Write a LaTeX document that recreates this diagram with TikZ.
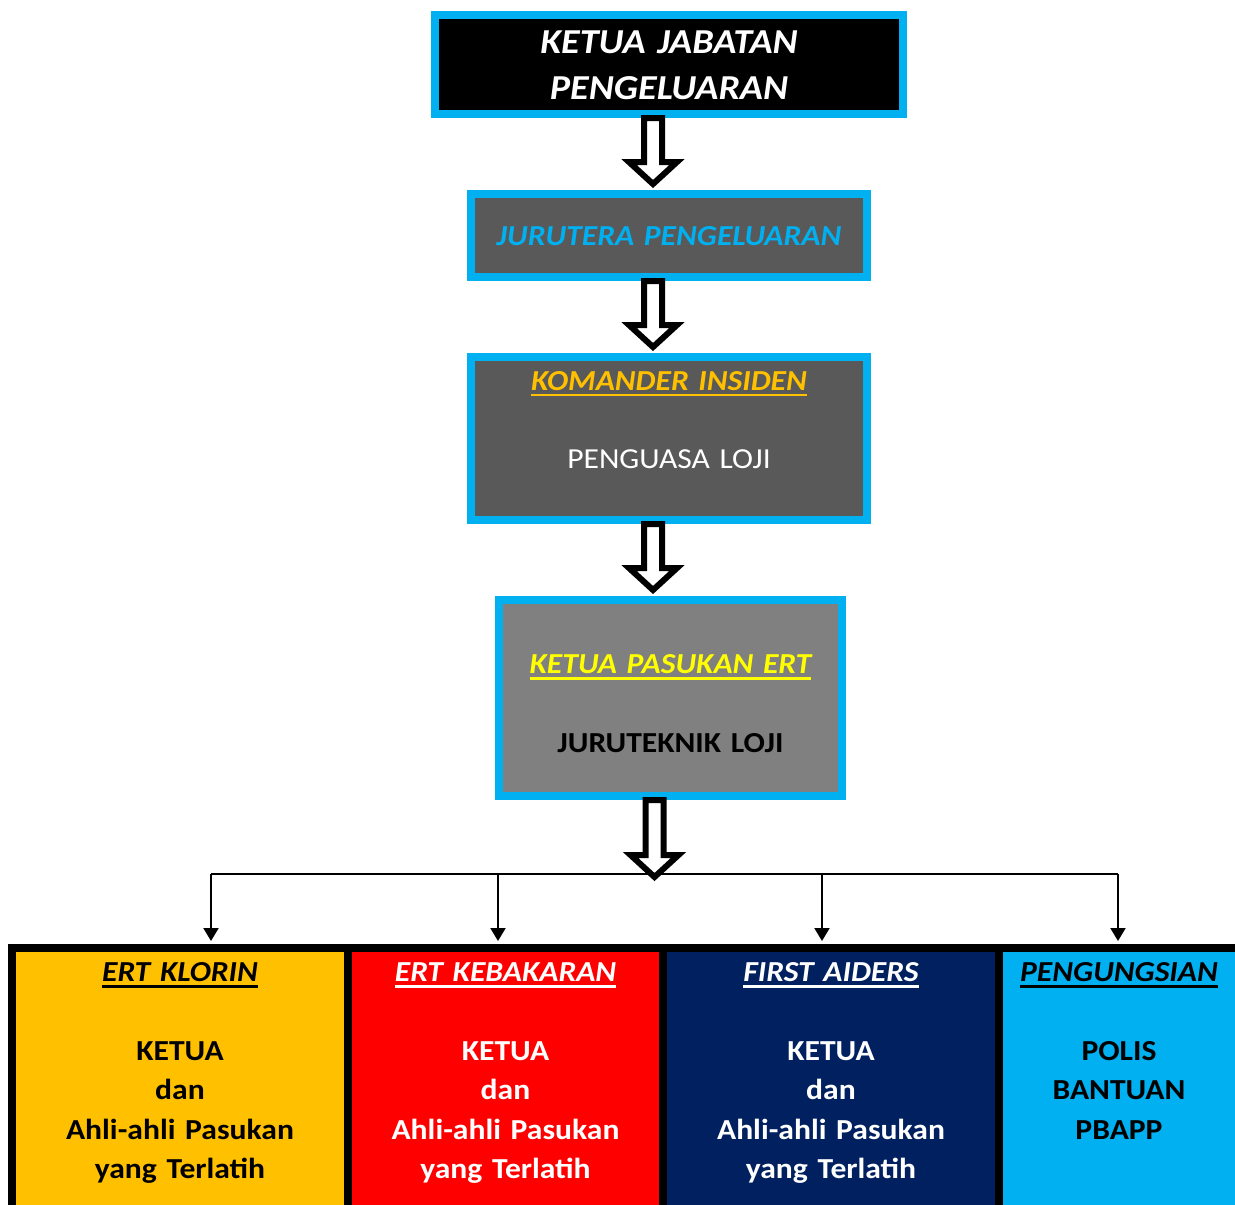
\documentclass[tikz,border=0pt]{standalone}
\usepackage{fontspec}
\setmainfont{Carlito}[FakeStretch=1.09]
\usetikzlibrary{calc,arrows.meta}

\definecolor{framecyan}{HTML}{00B0F0}
\definecolor{darkgrey}{HTML}{595959}
\definecolor{midgrey}{HTML}{808080}
\definecolor{gold}{HTML}{FFC000}
\definecolor{lemon}{HTML}{FFFF00}
\definecolor{fire}{HTML}{FF0000}
\definecolor{navy}{HTML}{002060}

% underlined heading
\newsavebox\headbox
\newcommand\headline[1]{\sbox\headbox{#1}\rlap{\vrule height -3.5pt depth 6pt width \wd\headbox}\usebox\headbox}

% hollow block arrow from a box down to a point
\newcommand\blockarrow[2]{%
  \draw[hollowarrow] let \p1=($(#1.south)+(-16,0)$), \p2=(#2) in
    (\x1-9pt,\y1) -- (\x1+9pt,\y1) -- (\x1+9pt,\y2+22pt) -- (\x1+24pt,\y2+22pt)
    -- (\x1,\y2) -- (\x1-24pt,\y2+22pt) -- (\x1-9pt,\y2+22pt) -- cycle;}

\tikzset{
  chiefbox/.style={draw=framecyan, line width=8pt, fill=#1, inner sep=0pt},
  teambox/.style={draw=black, line width=8pt, fill=#1, inner sep=0pt, minimum height=267pt},
  caption/.style={anchor=base, text width=#1, align=center, inner sep=0pt,
    font=\fontsize{29}{39.4}\selectfont},
  hollowarrow/.style={draw=black, fill=white, line width=6pt, line join=miter},
  conn/.style={line width=2pt},
  dropline/.style={conn, -{Triangle[width=15pt,length=13pt]}, shorten >=3pt},
}

\begin{document}
\begin{tikzpicture}[x=1pt, y=-1pt]
  \useasboundingbox (0,0) rectangle (1235,1205);

  % kotak utama
  \node[chiefbox=black, minimum width=468, minimum height=99] (ketua) at (669,64.5) {};
  \node[chiefbox=darkgrey, minimum width=396, minimum height=83] (jurutera) at (669,235.5) {};
  \node[chiefbox=darkgrey, minimum width=396, minimum height=163] (komander) at (669,438.5) {};
  \node[chiefbox=midgrey, minimum width=343, minimum height=196] (pasukan) at (670.5,698) {};

  \node[caption=460pt, font=\fontsize{35}{46}\selectfont\bfseries\itshape, text=white] (ketua-text) at (669,53.5) {KETUA JABATAN\\PENGELUARAN};
  \node[caption=390pt, font=\fontsize{29}{39.4}\selectfont\bfseries\itshape, text=framecyan] (jurutera-text) at (669,245) {JURUTERA PENGELUARAN};
  \node[caption=390pt, text=white] (komander-text) at (669,390) {\textcolor{gold}{\bfseries\itshape\headline{KOMANDER INSIDEN}}\\[39.4pt]PENGUASA LOJI};
  \node[caption=340pt, font=\fontsize{29}{39.4}\selectfont\bfseries] (pasukan-text) at (670.5,673.5) {\textcolor{lemon}{\itshape\headline{KETUA PASUKAN ERT}}\\[39.4pt]JURUTEKNIK LOJI};

  % kotak pasukan
  \node[teambox=gold, minimum width=336] (klorin) at (180,1081.5) {};
  \node[teambox=fire, minimum width=315] (kebakaran) at (505.5,1081.5) {};
  \node[teambox=navy, minimum width=336] (aiders) at (831,1081.5) {};
  \node[teambox=framecyan, minimum width=240] (pengungsian) at (1119,1081.5) {};

  \foreach \n/\x/\h/\c in {klorin/180/ERT KLORIN/black, kebakaran/505.5/ERT KEBAKARAN/white, aiders/831/FIRST AIDERS/white}
    \node[caption=320pt, font=\fontsize{29}{39.4}\selectfont\bfseries, text=\c] (\n-text) at (\x,981.5)
      {{\itshape\headline{\h}}\\[39.4pt]KETUA\\dan\\Ahli-ahli Pasukan\\yang Terlatih};
  \node[caption=230pt, font=\fontsize{29}{39.4}\selectfont\bfseries] (pengungsian-text) at (1119,981.5)
    {{\itshape\headline{PENGUNGSIAN}}\\[39.4pt]POLIS\\BANTUAN\\PBAPP};

  % anak panah besar
  \coordinate (bus) at (653,874);
  \blockarrow{ketua}{$(jurutera.north)+(0,-6)$}
  \blockarrow{jurutera}{$(komander.north)+(0,-6)$}
  \blockarrow{komander}{$(pasukan.north)+(0,-6)$}

  % garisan ke setiap pasukan
  \foreach \n/\d in {klorin/-442, kebakaran/-155, aiders/169, pengungsian/465}
    \coordinate (drop-\n) at ([xshift=\d pt]bus);
  \draw[conn] (drop-klorin) -- (drop-pengungsian);
  \foreach \n in {klorin, kebakaran, aiders, pengungsian}
    \draw[dropline] (drop-\n) -- (drop-\n |- \n.north);
  \blockarrow{pasukan}{$(bus)+(0,3)$}
\end{tikzpicture}
\end{document}
